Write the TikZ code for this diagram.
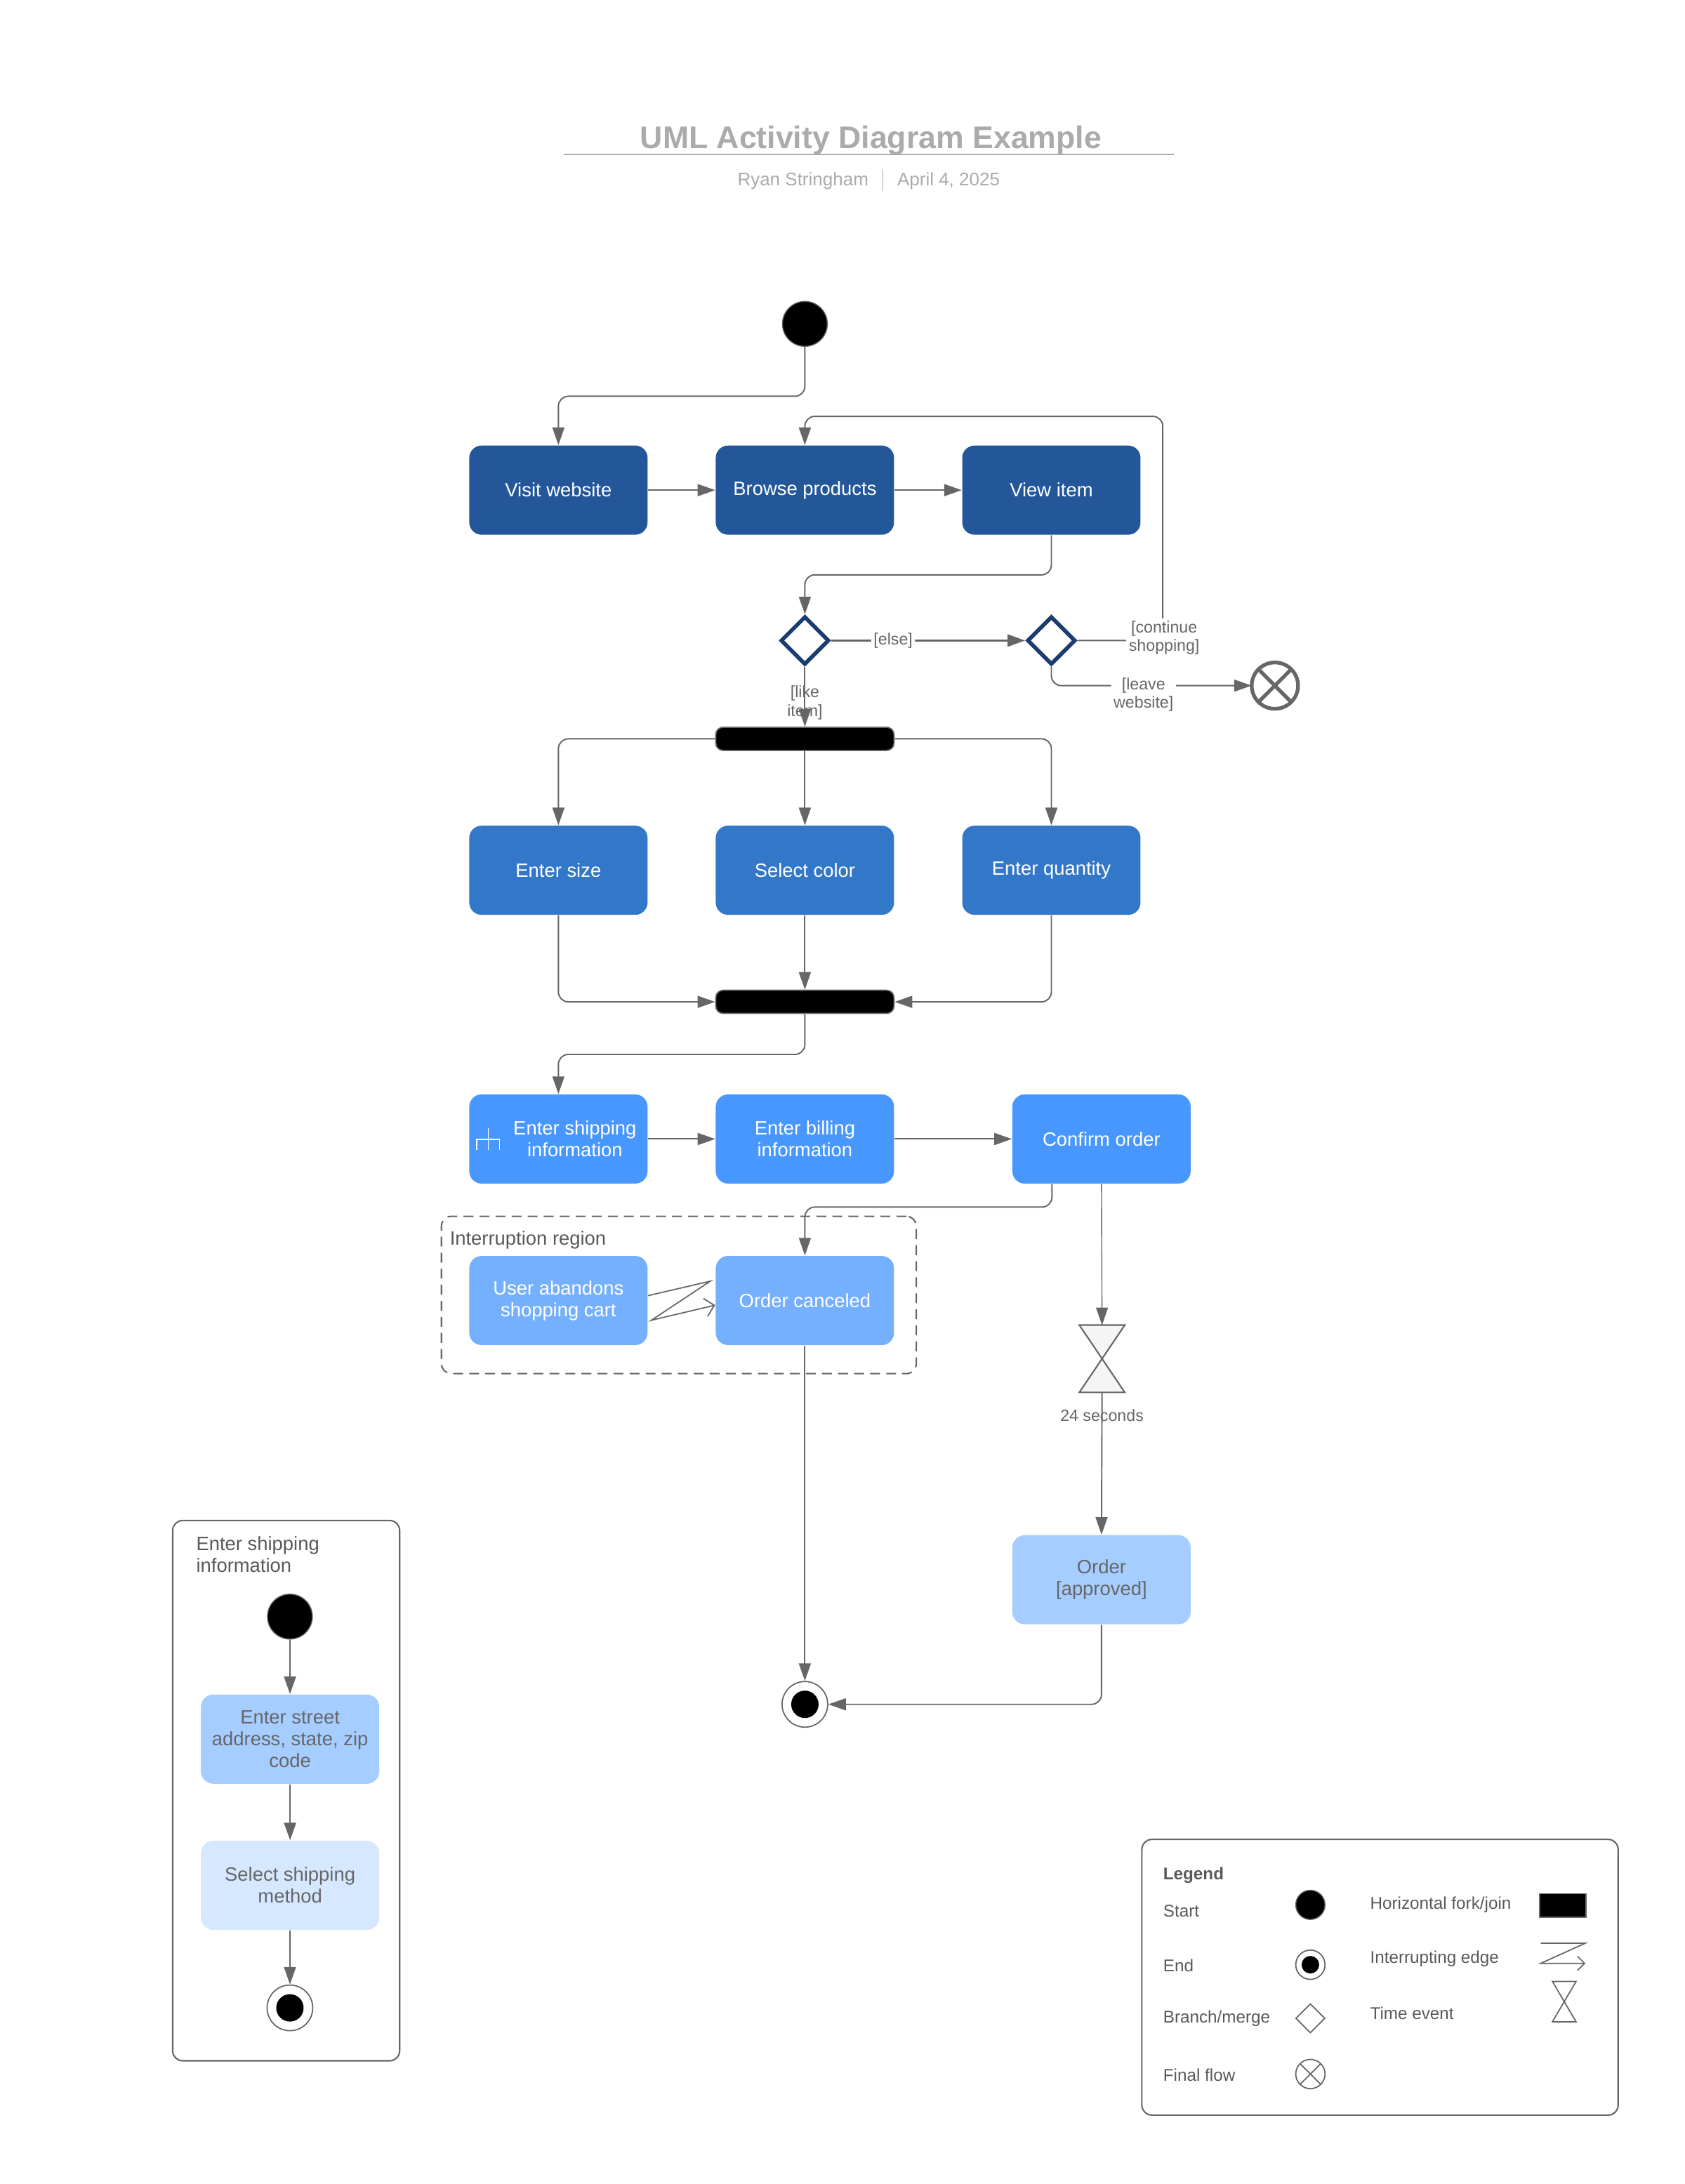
\documentclass[tikz,border=0pt]{standalone}
\usepackage{fontspec}
\setmainfont{Liberation Sans}
\usetikzlibrary{arrows.meta,positioning,shapes.geometric,calc}
\usepackage{xcolor}
\definecolor{navyact}{HTML}{24579A}
\definecolor{midact}{HTML}{3377C8}
\definecolor{brightact}{HTML}{4797FF}
\definecolor{softact}{HTML}{75B0FF}
\definecolor{paleact}{HTML}{A6CDFF}
\definecolor{mistact}{HTML}{D6E8FF}
\definecolor{wire}{HTML}{666666}
\definecolor{textgray}{HTML}{595959}
\definecolor{diamondnavy}{HTML}{1B3C6E}
\definecolor{titlegray}{HTML}{ABABAB}
\definecolor{hourfill}{HTML}{F5F5F5}

\begin{document}
\begin{tikzpicture}[
  x=0.019835cm, y=-0.019835cm,
  font=\fontsize{7.8}{8.8}\selectfont,
  act/.style={rounded corners=5pt, minimum width=2.54cm, minimum height=1.27cm, inner sep=0pt, align=center, text=white},
  actdark/.style={act, fill=navyact},
  actmid/.style={act, fill=midact},
  actbright/.style={act, fill=brightact},
  actsoft/.style={act, fill=softact},
  actpale/.style={act, fill=paleact, text=wire},
  actmist/.style={act, fill=mistact, text=wire},
  startdot/.style={circle, fill=black, draw=wire, line width=0.4pt, minimum size=0.64cm, inner sep=0pt},
  enddot/.style={circle, fill=white, draw=wire, line width=0.5pt, minimum size=#1, inner sep=0pt,
    path picture={\fill[black] (path picture bounding box.center) circle ({0.3*#1});}},
  enddot/.default=0.65cm,
  branch/.style={diamond, draw=diamondnavy, line width=1.6pt, fill=white, minimum size=0.69cm, inner sep=0pt},
  flowfinal/.style={circle, draw=wire, line width=1.5pt, minimum size=0.66cm, inner sep=0pt, outer sep=0pt},
  forkbar/.style={fill=black, draw=wire, line width=0.5pt, rounded corners=3pt, minimum width=2.54cm, minimum height=0.33cm, inner sep=0pt},
  timer/.style={minimum width=0.647cm, minimum height=0.958cm, inner sep=0pt, outer sep=0pt},
  flow/.style={draw=wire, line width=0.55pt, rounded corners=4pt, -{Triangle[length=2.5mm,width=1.7mm]}},
  guard/.style={text=wire, font=\fontsize{6.6}{7.6}\selectfont, align=center, inner sep=1pt},
  boxframe/.style={draw=wire, line width=0.6pt, rounded corners=4pt, inner sep=0pt},
  legendtext/.style={text=textgray, font=\fontsize{6.9}{8}\selectfont, inner sep=0pt},
  subt/.style={text=titlegray, font=\fontsize{7.4}{8.5}\selectfont, inner sep=0pt}
]
\useasboundingbox (0,0) rectangle (1210,1568.5);

% ---- title ----
\node[font=\fontsize{12.7}{15}\selectfont\bfseries, text=titlegray, anchor=base, inner sep=0pt] (title) at (625.4,106.7) {UML Activity Diagram Example};
\draw[titlegray, line width=0.8pt] (405,110.9) -- (843,110.9);
\node[subt, anchor=base east] (author) at (624,133.6) {Ryan Stringham};
\node[subt, anchor=base west] (date) at (644,133.6) {April 4, 2025};
\draw[titlegray, line width=0.5pt] (634,121.3) -- (634,137);

% ---- row 1 ----
\node[startdot] (start) at (578,232.6) {};
\node[actdark] (visit) at (401,352) {Visit website};
\node[actdark] (browse) at (578,352) {Browse products};
\node[actdark] (view) at (755,352) {View item};

\draw[flow] (start.south) -- ++(0,35.5) -| (visit.north);
\draw[flow] (visit) -- (browse);
\draw[flow] (browse) -- (view);

% ---- decisions ----
\node[branch] (d1) at (578,460) {};
\node[branch] (d2) at (755,460) {};
\node[flowfinal] (ff) at (915.5,492.4) {};
\draw[wire, line width=1.5pt] (ff.45) -- (ff.225) (ff.135) -- (ff.315);

\draw[flow] (view.south) -- ++(0,28.5) -| (d1.north);
\draw[flow, line width=0.9pt] (d1) -- node[guard, fill=white, pos=0.32] {[else]} (d2);

\coordinate (loopturn) at (835,299);
\draw[flow] (d2.east) -| (loopturn) -| (browse.north);
\node[guard, fill=white] (contlbl) at (836,458) {[continue\\shopping]};

\draw[flow] (d2.south) |- node[guard, fill=white, pos=0.73, yshift=-1.3mm] {[leave\\website]} (ff.west);

% ---- fork / join ----
\node[forkbar] (fork) at (578,530.6) {};
\draw[flow] (d1) -- node[guard, pos=0.6] {[like\\item]} (fork);

\node[actmid] (size) at (401,625) {Enter size};
\node[actmid] (color) at (578,625) {Select color};
\node[actmid] (qty) at (755,625) {Enter quantity};
\node[forkbar] (join) at (578,719.5) {};

\draw[flow] (fork.west) -| (size.north);
\draw[flow] (fork) -- (color);
\draw[flow] (fork.east) -| (qty.north);
\draw[flow] (size.south) |- (join.west);
\draw[flow] (color) -- (join);
\draw[flow] (qty.south) |- (join.east);

% ---- row 3 ----
\node[actbright] (ship) at (401,818) {\hspace*{0.47cm}Enter shipping\\\hspace*{0.47cm}information};
\begin{scope}[shift={(ship.west)}]
  \draw[white, line width=0.5pt] (14,-8) -- (14,8) (5.8,8) -- (5.8,0.3) -- (22.1,0.3) -- (22.1,8);
\end{scope}
\node[actbright] (bill) at (578,818) {Enter billing\\information};
\node[actbright] (confirm) at (791,818) {Confirm order};

\draw[flow] (join.south) -- ++(0,29) -| (ship.north);
\draw[flow] (ship) -- (bill);
\draw[flow] (bill) -- (confirm);

% ---- interruption region ----
\node[boxframe, dashed, dash pattern=on 4pt off 2.5pt, minimum width=6.764cm, minimum height=2.241cm] (intr) at (487.5,930) {};
\node[anchor=west, text=textgray, inner sep=0pt] (intrlbl) at (322.7,890.7) {Interruption region};
\node[actsoft] (user) at (401,934) {User abandons\\shopping cart};
\node[actsoft] (cancel) at (578,934) {Order canceled};
\draw[wire, line width=0.5pt, -{Straight Barb[length=1.3mm]}] ($(user.east)+(0,-3.5)$) -- (510.1,920.1) -- (467.7,948.2) -- ($(cancel.west)+(0,3.3)$);

\draw[flow] ($(confirm.south west)+(28.8,0)$) -- ++(0,16.5) -| (cancel.north);

% ---- time event ----
\node[timer] (wait) at (791.4,975.8) {};
\draw[draw=wire, fill=hourfill, line width=0.6pt] (wait.north west) -- (wait.north east) -- (wait.south west) -- (wait.south east) -- cycle;
\node[actpale] (approved) at (791,1134.5) {Order\\{}[approved]};
\node[enddot] (end) at (578,1224) {};

\draw[flow, line width=0.4pt] (confirm.south) -- (wait.north);
\draw[flow] (wait.south) -- node[guard, pos=0.163] {24 seconds} (approved.north);
\draw[flow] (cancel.south) -- (end.north);
\draw[flow] (approved.south) |- (end.east);

% ---- sub-activity ----
\node[boxframe, minimum width=3.233cm, minimum height=7.696cm] (sub) at (205.5,1286) {};
\node[anchor=north west, align=left, text=textgray, inner sep=0pt] (sublbl) at (140.6,1103) {Enter shipping\\information};
\node[startdot] (substart) at (208.2,1161) {};
\node[actpale] (street) at (208.3,1249) {Enter street\\address, state, zip\\code};
\node[actmist] (method) at (208.3,1354) {Select shipping\\method};
\node[enddot] (subend) at (208.2,1442) {};

\draw[flow] (substart) -- (street);
\draw[flow] (street) -- (method);
\draw[flow] (method) -- (subend);

% ---- legend ----
\node[boxframe, minimum width=6.784cm, minimum height=3.927cm] (legend) at (991,1420) {};
\node[legendtext, font=\fontsize{6.9}{8}\selectfont\bfseries, anchor=west] (lhead) at (835,1347) {Legend};
\node[legendtext, anchor=west] (lstarttxt) at (835,1372.6) {Start};
\node[legendtext, anchor=west] (lendtxt) at (835,1411.6) {End};
\node[legendtext, anchor=west] (lbranchtxt) at (835,1449.7) {Branch/merge};
\node[legendtext, anchor=west] (lflowtxt) at (835,1490.5) {Final flow};
\node[legendtext, anchor=west] (lbartxt) at (983.6,1368) {Horizontal fork/join};
\node[legendtext, anchor=west] (lziptxt) at (983.6,1407) {Interrupting edge};
\node[legendtext, anchor=west] (ltimetxt) at (983.6,1446) {Time event};

\node[startdot, minimum size=0.417cm] (lstart) at (941,1368) {};
\node[enddot=0.417cm] (lend) at (941,1411) {};
\node[branch, draw=wire, line width=0.5pt, minimum size=0.417cm] (lbranch) at (941,1449.5) {};
\node[flowfinal, line width=0.5pt, minimum size=0.417cm] (lflow) at (941,1489.5) {};
\draw[wire, line width=0.5pt] (lflow.45) -- (lflow.225) (lflow.135) -- (lflow.315);

\node[fill=black, draw=wire, line width=0.5pt, minimum width=0.655cm, minimum height=0.337cm, inner sep=0pt] (lbar) at (1122.3,1368.5) {};
\draw[wire, line width=0.5pt, -{Straight Barb[length=1mm]}] (1106.5,1395.5) -- (1138.5,1395.5) -- (1106.5,1410) -- (1138.5,1410);
\node[timer, minimum width=0.337cm, minimum height=0.575cm] (ltime) at (1123.3,1437.5) {};
\draw[draw=wire, fill=white, line width=0.5pt] (ltime.north west) -- (ltime.north east) -- (ltime.south west) -- (ltime.south east) -- cycle;

\end{tikzpicture}
\end{document}
